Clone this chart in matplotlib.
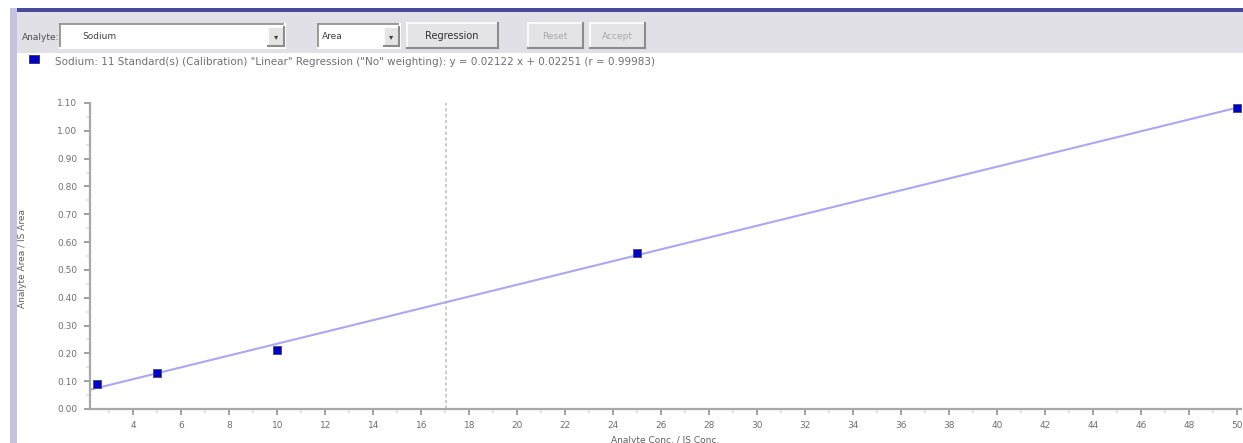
import matplotlib
matplotlib.use("Agg")
import matplotlib.pyplot as plt
from matplotlib.patches import Rectangle
from matplotlib.ticker import MultipleLocator, FixedLocator
import numpy as np

# calibration standards (concentration ratio vs response ratio)
conc_ratio = [2.5, 5.0, 10.0, 25.0, 50.0]
area_ratio = [0.090, 0.129, 0.212, 0.561, 1.083]

# regression reported in the legend line
slope = 0.02122
intercept = 0.02251
r_value = 0.99983

analyte = "Sodium"
response = "Area"
cursor_x = 17.05

x_ticks = list(range(4, 51, 2))
y_ticks = [0.0, 0.1, 0.2, 0.3, 0.4, 0.5, 0.6, 0.7, 0.8, 0.9, 1.0, 1.1]

W, H = 1243, 443
plt.rcParams['font.family'] = ['DejaVu Sans']

fig = plt.figure(figsize=(W / 100, H / 100), dpi=100)
fig.patch.set_facecolor("white")

# full-window layer in pixel units for the toolbar / frame
ui = fig.add_axes([0, 0, 1, 1], zorder=0)
ui.set_xlim(0, W)
ui.set_ylim(H, 0)
ui.axis("off")


def box(x0, y0, x1, y1, **kw):
    ui.add_patch(Rectangle((x0, y0), x1 - x0, y1 - y0, **kw))


def bevel(x0, y0, x1, y1, fill, sunken=False):
    box(x0, y0, x1, y1, facecolor=fill, edgecolor="none")
    light, dark = "#ffffff", "#8c8c8c"
    if sunken:
        light, dark = dark, light
    ui.plot([x0, x1], [y0, y0], color=light, lw=1.2)
    ui.plot([x0, x0], [y0, y1], color=light, lw=1.2)
    ui.plot([x0, x1], [y1, y1], color=dark, lw=1.5)
    ui.plot([x1, x1], [y0, y1], color=dark, lw=1.5)


# window frame
box(10, 8, W, 12, facecolor="#4a4a9c", edgecolor="none")
box(10, 12, W, 53, facecolor="#e0e0e6", edgecolor="none")
box(10, 8, 17, H, facecolor="#c4c4e2", edgecolor="none")

# toolbar
ui.text(22, 37, "Analyte:", fontsize=6.5, color="#505050", va="center")
bevel(60, 24, 285, 48, "#ffffff", sunken=True)
ui.text(82, 36, analyte, fontsize=6.5, color="#404040", va="center")
bevel(268, 27, 284, 46, "#e4e4e4")
ui.text(276, 37, "▾", fontsize=6, color="#404040", ha="center", va="center")

bevel(318, 24, 400, 48, "#ffffff", sunken=True)
ui.text(322, 36, response, fontsize=6.5, color="#404040", va="center")
bevel(384, 27, 399, 46, "#e4e4e4")
ui.text(391, 37, "▾", fontsize=6, color="#404040", ha="center", va="center")

bevel(407, 23, 498, 48, "#e4e4e8")
ui.text(452, 36, "Regression", fontsize=7, color="#303030", ha="center", va="center")
bevel(528, 23, 583, 48, "#e4e4e8")
ui.text(555, 36, "Reset", fontsize=6.5, color="#a8a8a8", ha="center", va="center")
bevel(590, 23, 645, 48, "#e4e4e8")
ui.text(617, 36, "Accept", fontsize=6.5, color="#a8a8a8", ha="center", va="center")

# series legend
box(29, 55, 39, 63, facecolor="#0000c8", edgecolor="#303070", lw=0.6)
legend_txt = (f'{analyte}: 11 Standard(s) (Calibration) "Linear" Regression ("No" weighting): '
              f'y = {slope:.5f} x + {intercept:.5f} (r = {r_value:.5f})')
ui.text(55, 62, legend_txt, fontsize=7.5, color="#707070", va="center")

# calibration plot
x0, x1, y_top, y_bot = 90, 1241, 103, 409
ax = fig.add_axes([x0 / W, 1 - y_bot / H, (x1 - x0) / W, (y_bot - y_top) / H], zorder=1)
ax.set_facecolor("none")
xmin, xmax = 2.2, 50.15
ax.set_xlim(xmin, xmax)
ax.set_ylim(0, 1.1)

fit_x = np.array([xmin, xmax])
ax.plot(fit_x, slope * fit_x + intercept, color="#a8a8f6", lw=1.5, zorder=2, clip_on=False)
ax.plot(conc_ratio, area_ratio, ls="none", marker="s", ms=5.2,
        mfc="#0000cc", mec="#50507a", mew=0.7, zorder=3, clip_on=False)
ax.axvline(cursor_x, color="#c4c4c4", lw=1.2, ls=(0, (2, 1.5)), zorder=1)

for side in ("top", "right"):
    ax.spines[side].set_visible(False)
for side in ("left", "bottom"):
    ax.spines[side].set_color("#a8a8a8")
    ax.spines[side].set_linewidth(1.6)

ax.xaxis.set_major_locator(FixedLocator(x_ticks))
ax.xaxis.set_minor_locator(MultipleLocator(1))
ax.yaxis.set_major_locator(FixedLocator(y_ticks))
ax.yaxis.set_minor_locator(MultipleLocator(0.05))
ax.set_xticklabels([str(v) for v in x_ticks])
ax.set_yticklabels([f"{v:.2f}" for v in y_ticks])
ax.tick_params(which="major", length=4, width=1.4, color="#a0a0a0",
               labelsize=6.5, labelcolor="#707070", pad=5)
ax.tick_params(which="minor", length=3, width=1.2, color="#e0e0e0")

ax.set_xlabel("Analyte Conc. / IS Conc.", fontsize=6.5, color="#606060", labelpad=4)
fig.text(23 / W, 1 - 258 / H, "Analyte Area / IS Area", rotation=90,
         fontsize=6.5, color="#606060", ha="center", va="center")

fig.savefig("out.png", dpi=100)
